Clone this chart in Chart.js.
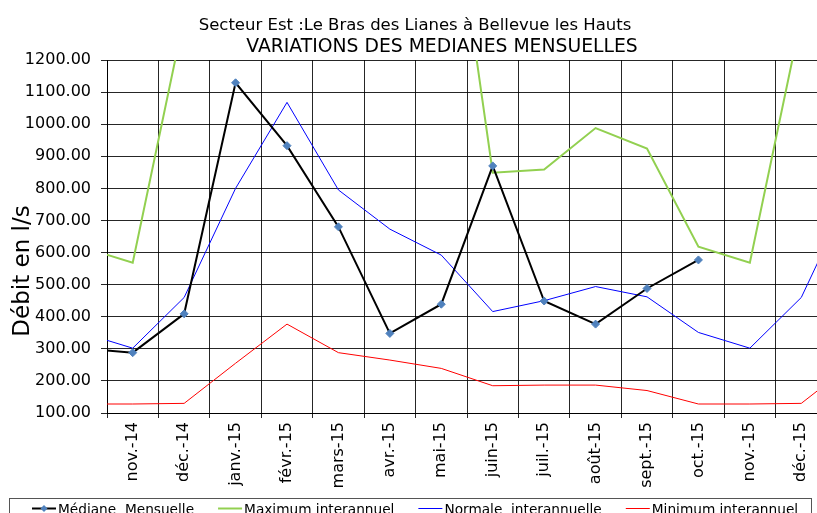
<!DOCTYPE html>
<html><head><meta charset="utf-8">
<script src="https://cdn.jsdelivr.net/npm/chart.js@4.4.1/dist/chart.umd.min.js"></script>
<style>
html,body{margin:0;padding:0;overflow:hidden;background:#fff;width:817px;height:513px}
#wrap{position:absolute;left:0;top:0;width:837px;height:530px}
</style>
</head><body><div id="wrap"><canvas id="c" width="837" height="530"></canvas></div>
<script>
const titleLines = ['Secteur Est :Le Bras des Lianes à Bellevue les Hauts', 'VARIATIONS DES MEDIANES MENSUELLES'];
const yAxisTitle = 'Débit en l/s';
const months = ['oct.-14','nov.-14','déc.-14','janv.-15','févr.-15','mars-15','avr.-15','mai-15','juin-15','juil.-15','août-15','sept.-15','oct.-15','nov.-15','déc.-15','janv.-16'];
const firstShown = 'nov.-14';
const lastShown = 'déc.-15';
const seriesNames = ['Médiane  Mensuelle','Maximum interannuel','Normale  interannuelle','Minimum interannuel'];
const medianeMensuelle     = [302, 288, 409, 1129, 933, 680, 348, 439, 870, 449, 377, 488, 577, null, null, null];
const maximumInterannuel   = [618, 568, 1333, 2400, 2900, 2600, 2100, 1977, 849, 859, 988, 924, 618, 568, 1333, 2400];
const normaleInterannuelle = [351, 302, 460, 800, 1068, 795, 673, 592, 416, 450, 494, 462, 351, 302, 460, 800];
const minimumInterannuel   = [128, 128, 130, 255, 377, 288, 265, 239, 185, 187, 187, 170, 128, 128, 130, 255];
const yMin = 100, yMax = 1200, yStep = 100;

const iFirst = months.indexOf(firstShown);
const iLast = months.indexOf(lastShown);
const toXY = arr => arr.map((v, i) => ({ x: i, y: v }));

Chart.defaults.font.family = '"DejaVu Sans", Verdana, sans-serif';
Chart.defaults.color = '#000';

const decor = {
  id: 'decor',
  afterDraw(chart) {
    const ctx = chart.ctx;
    ctx.save();
    ctx.fillStyle = '#000';
    ctx.textBaseline = 'alphabetic';
    ctx.textAlign = 'center';
    ctx.font = '16.5px "DejaVu Sans"';
    ctx.fillText(titleLines[0], 415, 30);
    ctx.font = '18.8px "DejaVu Sans"';
    ctx.fillText(titleLines[1], 442, 52);
    ctx.save();
    ctx.translate(29, 271);
    ctx.rotate(-Math.PI / 2);
    ctx.font = '23px "DejaVu Sans"';
    ctx.fillText(yAxisTitle, 0, 0);
    ctx.restore();
    // legend
    ctx.strokeStyle = '#555';
    ctx.lineWidth = 1;
    ctx.strokeRect(9.5, 498.5, 802, 40);
    ctx.font = '13.7px "DejaVu Sans"';
    ctx.textAlign = 'left';
    let x = 32;
    const ly = 508.5;
    chart.data.datasets.forEach(ds => {
      ctx.strokeStyle = ds.borderColor;
      ctx.lineWidth = ds.borderWidth;
      ctx.beginPath(); ctx.moveTo(x, ly); ctx.lineTo(x + 24, ly); ctx.stroke();
      if (ds.pointRadius > 0) {
        const cx = x + 12, r = 3.5;
        ctx.fillStyle = ds.pointBackgroundColor;
        ctx.beginPath();
        ctx.moveTo(cx, ly - r); ctx.lineTo(cx + r, ly); ctx.lineTo(cx, ly + r); ctx.lineTo(cx - r, ly);
        ctx.closePath(); ctx.fill();
      }
      ctx.fillStyle = '#000';
      ctx.fillText(ds.label, x + 26, 513.5);
      x += 26 + ctx.measureText(ds.label).width + 24;
    });
    ctx.restore();
  }
};

new Chart(document.getElementById('c'), {
  type: 'line',
  data: {
    datasets: [
      { label: seriesNames[0], data: toXY(medianeMensuelle), borderColor: '#000000', borderWidth: 2,
        pointStyle: 'rectRot', pointRadius: 4, pointBackgroundColor: '#4F81BD', pointBorderColor: '#4F81BD', pointBorderWidth: 1,
        tension: 0, clip: 0, order: 0 },
      { label: seriesNames[1], data: toXY(maximumInterannuel), borderColor: '#92D050', borderWidth: 2, pointRadius: 0, tension: 0, clip: 0, order: 1 },
      { label: seriesNames[2], data: toXY(normaleInterannuelle), borderColor: '#0000FF', borderWidth: 1, pointRadius: 0, tension: 0, clip: 0, order: 2 },
      { label: seriesNames[3], data: toXY(minimumInterannuel), borderColor: '#FF0000', borderWidth: 1, pointRadius: 0, tension: 0, clip: 0, order: 3 }
    ]
  },
  options: {
    responsive: false,
    animation: false,
    devicePixelRatio: 1,
    parsing: { xAxisKey: 'x', yAxisKey: 'y' },
    layout: { padding: { top: 60, left: 0, right: 10, bottom: 40 } },
    plugins: { legend: { display: false }, title: { display: false }, tooltip: { enabled: false } },
    scales: {
      x: {
        type: 'linear',
        min: iFirst - 0.5, max: iLast + 0.5,
        afterBuildTicks: s => {
          const t = [];
          for (let i = iFirst; i <= iLast; i++) t.push({ value: i });
          s.ticks = t;
        },
        grid: { offset: true, color: 'rgba(0,0,0,0.85)', lineWidth: 1, tickLength: 5, drawTicks: true },
        border: { color: '#000', width: 1 },
        ticks: { autoSkip: false, minRotation: 90, maxRotation: 90, padding: 4, font: { size: 16 }, color: '#000',
                 callback: v => months[Math.round(v)] },
        afterFit: s => { s.height = 77; }
      },
      y: {
        min: yMin, max: yMax,
        grid: { color: 'rgba(0,0,0,0.85)', lineWidth: 1, tickLength: 6 },
        border: { color: '#000', width: 1 },
        ticks: { stepSize: yStep, padding: 10, font: { size: 16 }, color: '#000', callback: v => Number(v).toFixed(2) },
        afterFit: s => { s.width = 107; }
      }
    }
  },
  plugins: [decor]
});
</script></body></html>
